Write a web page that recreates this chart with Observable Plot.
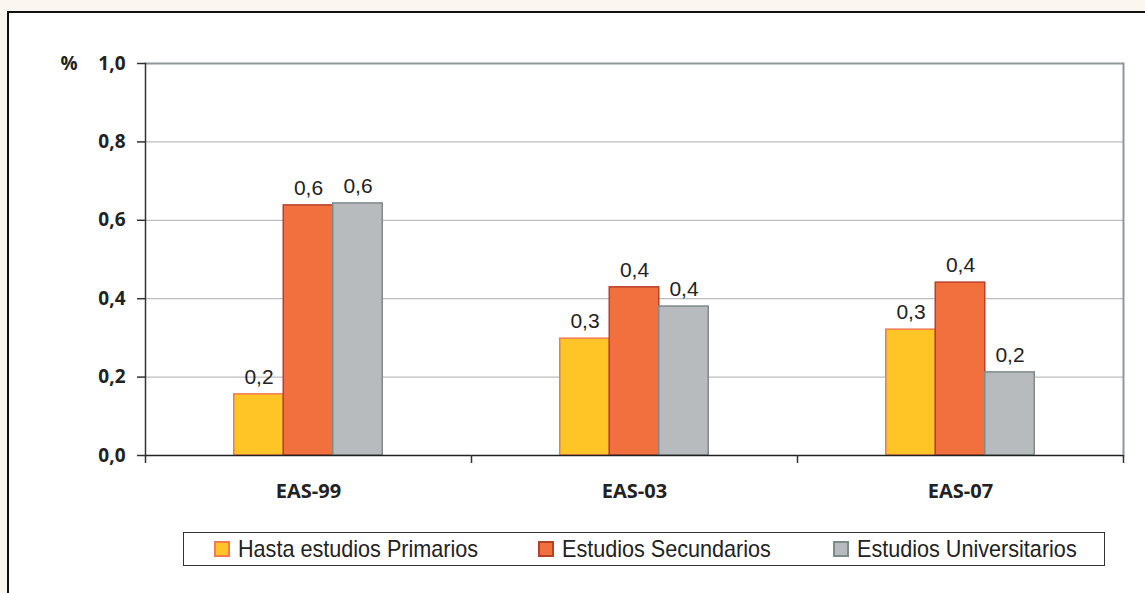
<!DOCTYPE html>
<html>
<head>
<meta charset="utf-8">
<script src="https://cdn.jsdelivr.net/npm/d3@7"></script>
<script src="https://cdn.jsdelivr.net/npm/@observablehq/plot@0.6"></script>
<style>
  html, body { margin: 0; padding: 0; width: 1145px; height: 593px; overflow: hidden; background: #fcf6f0; }
  #frame { position: absolute; left: 7px; top: 11px; width: 1200px; height: 650px; background: #fff;
           border-left: 2px solid #111; border-top: 2px solid #111; z-index: 0; }
  #chart { position: absolute; left: 0; top: 0; z-index: 1; }
  #legend { position: absolute; left: 183px; top: 532px; width: 920px; height: 32px; border: 1.5px solid #333;
            background: #fff; z-index: 2; font-family: "Liberation Sans", Arial, sans-serif;
            font-size: 24px; color: #222; }
  .item { position: absolute; top: 0; height: 32px; display: flex; align-items: center; white-space: nowrap; }
  .sw { width: 12px; height: 12px; border: 2px solid; margin-right: 8px; flex: none; }
  .lt { display: inline-block; transform: scaleX(0.9); transform-origin: left center; }
</style>
</head>
<body>
<div id="frame"></div>
<div id="chart"></div>
<div id="legend"></div>
<script>
const categories = ["EAS-99", "EAS-03", "EAS-07"];
const series = ["Hasta estudios Primarios", "Estudios Secundarios", "Estudios Universitarios"];
const primarios = [0.156, 0.298, 0.321];
const secundarios = [0.638, 0.429, 0.441];
const universitarios = [0.643, 0.380, 0.212];
const yTicks = [0, 0.2, 0.4, 0.6, 0.8, 1.0];
const fills = ["#ffc425", "#f2703e", "#b8bbbe"];
const strokes = ["#f47a50", "#b8402a", "#7f8a8a"];

const values = [primarios, secundarios, universitarios];
const rows = series.map((s, si) => categories.map((c, ci) => ({cat: c, series: s, value: values[si][ci]})));
const fmt = v => v.toFixed(1).replace(".", ",");

const bw = 49.5, band = 326;
const insets = [
  [band / 2 - 1.5 * bw, band / 2 + 0.5 * bw],
  [band / 2 - 0.5 * bw, band / 2 - 0.5 * bw],
  [band / 2 + 0.5 * bw, band / 2 - 1.5 * bw]
];
const offsets = [-bw, 0, bw];

const marks = [
  Plot.gridY([0.2, 0.4, 0.6, 0.8], {stroke: "#bdbdbd", strokeOpacity: 1, strokeWidth: 1.2}),
  Plot.ruleY([1], {stroke: "#8e9898", strokeWidth: 2}),
  Plot.frame({anchor: "right", stroke: "#8e9898", strokeWidth: 2}),
  ...rows.map((r, i) => Plot.barY(r, {
    x: "cat", y: "value", fill: "series", stroke: strokes[i], strokeWidth: 1.5,
    insetLeft: insets[i][0], insetRight: insets[i][1]
  })),
  ...rows.map((r, i) => Plot.text(r, {
    x: "cat", y: "value", text: d => fmt(d.value), dx: offsets[i], dy: -17,
    fontSize: 21, fill: "#222", fontFamily: "'Liberation Sans', Arial, sans-serif"
  })),
  Plot.frame({anchor: "left", stroke: "#333", strokeWidth: 1.5}),
  Plot.ruleY([0], {stroke: "#222", strokeWidth: 1.5}),
  Plot.axisY({ticks: yTicks, tickFormat: fmt, tickSize: 8, tickPadding: 12, label: null,
    fontSize: 19, fontWeight: "bold", fill: "#222", stroke: "#333", strokeWidth: 1.5, strokeOpacity: 1}),
  Plot.axisX(categories, {tickSize: 8, tickFormat: () => "", dx: -band / 2, stroke: "#333", strokeWidth: 1.5, strokeOpacity: 1, label: null}),
  Plot.axisX([categories[categories.length - 1]], {tickSize: 8, tickFormat: () => "", dx: band / 2, stroke: "#333", strokeWidth: 1.5, strokeOpacity: 1, label: null}),
  Plot.axisX({tickSize: 0, tickPadding: 28, fontSize: 20, fontWeight: "bold", fill: "#222", label: null}),
  Plot.text(["%"], {frameAnchor: "top-left", dx: -85, text: d => d, fontSize: 19, fontWeight: "bold", fill: "#222", lineAnchor: "middle"})
];

const chart = Plot.plot({
  width: 1145,
  height: 530,
  marginLeft: 145,
  marginRight: 22,
  marginTop: 63,
  marginBottom: 75,
  style: {background: "transparent", fontFamily: "'Open Sans', sans-serif", color: "#222"},
  x: {domain: categories, padding: 0, axis: null},
  y: {domain: [0, 1], axis: null},
  color: {domain: series, range: fills},
  marks
});
document.getElementById("chart").appendChild(chart);

const legendPos = [30, 354, 649];
const legend = document.getElementById("legend");
series.forEach((s, i) => {
  const item = document.createElement("div");
  item.className = "item";
  item.style.left = legendPos[i] + "px";
  const sw = document.createElement("div");
  sw.className = "sw";
  sw.style.background = fills[i];
  sw.style.borderColor = strokes[i];
  const t = document.createElement("span");
  t.className = "lt";
  t.textContent = s;
  item.appendChild(sw);
  item.appendChild(t);
  legend.appendChild(item);
});
</script>
</body>
</html>
